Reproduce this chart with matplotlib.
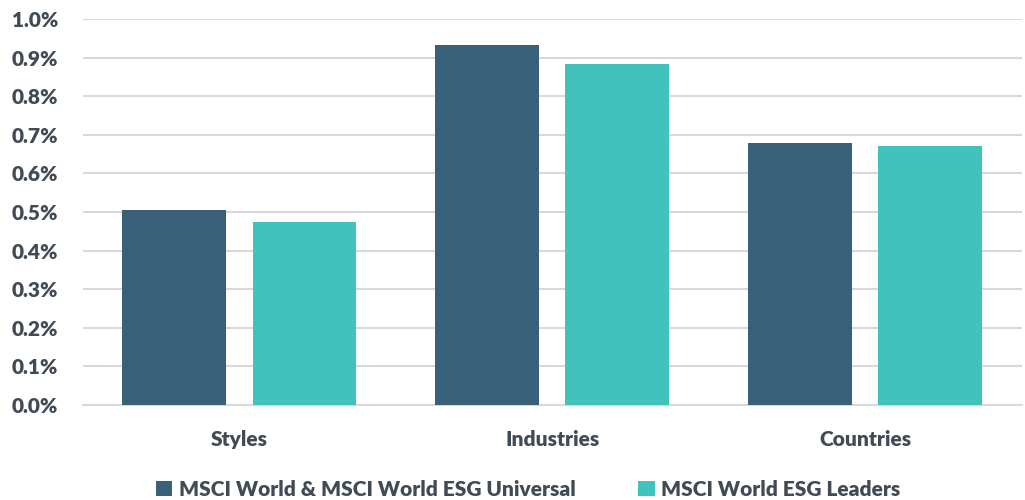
import numpy as np
import matplotlib.pyplot as plt
from matplotlib.ticker import FuncFormatter

# Data (percent)
categories = ["Styles", "Industries", "Countries"]
universal = [0.504, 0.932, 0.678]
leaders = [0.473, 0.883, 0.670]
series_names = ["MSCI World & MSCI World ESG Universal", "MSCI World ESG Leaders"]

dark = "#386079"
teal = "#41c2bc"
text_col = "#414b56"

plt.rcParams['font.family'] = ['Lato', 'DejaVu Sans']
plt.rcParams['font.weight'] = 'heavy'

fig = plt.figure(figsize=(10.25, 5), dpi=100)
ax = fig.add_axes([0.081, 0.19, 0.9156, 0.772])

x = np.arange(len(categories))
w = 0.332
off = 0.208
ax.bar(x - off, universal, w, color=dark, label=series_names[0], zorder=3)
ax.bar(x + off, leaders, w, color=teal, label=series_names[1], zorder=3)

ax.set_xlim(-0.5, 2.5)
ax.set_ylim(0, 1.0)
ax.set_yticks(np.arange(0, 1.01, 0.1))
ax.yaxis.set_major_formatter(FuncFormatter(lambda v, p: f"{v:.1f}%"))
ax.set_xticks(x)
ax.set_xticklabels(categories)
ax.grid(axis='y', color='#d9d9d9', linewidth=1.5, zorder=0)
for s in ['top', 'right', 'left']:
    ax.spines[s].set_visible(False)
ax.spines['bottom'].set_color('#d9d9d9')
ax.spines['bottom'].set_linewidth(1.5)
ax.tick_params(axis='both', length=0, labelsize=15, labelcolor=text_col)
ax.tick_params(axis='x', pad=18)
ax.tick_params(axis='y', pad=18)
for lab in ax.get_xticklabels() + ax.get_yticklabels():
    lab.set_fontweight('heavy')

fig.legend(loc='lower center', bbox_to_anchor=(0.515, -0.035), ncol=2, frameon=False,
           prop={'size': 15, 'weight': 'heavy'}, labelcolor=text_col,
           handlelength=0.8, handleheight=0.8, handletextpad=0.3, columnspacing=3.0)

fig.savefig("out.png", dpi=100)
